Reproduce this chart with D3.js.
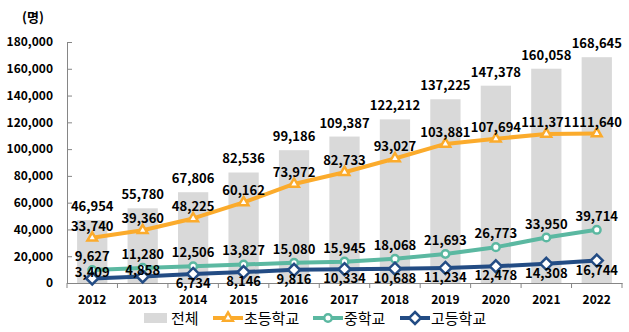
<!DOCTYPE html>
<html>
<head>
<meta charset="utf-8">
<script src="https://cdn.jsdelivr.net/npm/d3@7"></script>
<style>
  body { margin: 0; background: #fff; }
  svg text { font-family: "Noto Sans CJK KR", "Noto Sans", sans-serif; fill: #000; }
</style>
</head>
<body>
<div id="chart"></div>
<script>
const years = ["2012", "2013", "2014", "2015", "2016", "2017", "2018", "2019", "2020", "2021", "2022"];
const total = [46954, 55780, 67806, 82536, 99186, 109387, 122212, 137225, 147378, 160058, 168645];
const elementary = [33740, 39360, 48225, 60162, 73972, 82733, 93027, 103881, 107694, 111371, 111640];
const middle = [9627, 11280, 12506, 13827, 15080, 15945, 18068, 21693, 26773, 33950, 39714];
const high = [3409, 4858, 6734, 8146, 9816, 10334, 10688, 11234, 12478, 14308, 16744];
const yTicks = [0, 20000, 40000, 60000, 80000, 100000, 120000, 140000, 160000, 180000];

const W = 629, H = 332;
const margin = { top: 42, right: 7, bottom: 49, left: 67 };
const width = W - margin.left - margin.right;
const height = H - margin.top - margin.bottom;
const fmt = d3.format(",");

const svg = d3.select("#chart")
  .append("svg")
  .attr("width", W)
  .attr("height", H);

const g = svg.append("g")
  .attr("transform", `translate(${margin.left},${margin.top})`);

const x = d3.scaleBand().domain(years).range([0, width]);
const bw = x.bandwidth() * 0.6;
const y = d3.scaleLinear().domain([0, 180000]).range([height, 0]);

const gray = "#d9d9d9", orange = "#fbab2c", teal = "#5bb8a1", navy = "#234c84";

// bars
g.selectAll(".bar")
  .data(total)
  .enter()
  .append("rect")
  .attr("class", "bar")
  .attr("x", (d, i) => x(years[i]) + (x.bandwidth() - bw) / 2)
  .attr("y", d => y(d))
  .attr("width", bw)
  .attr("height", d => height - y(d))
  .attr("fill", gray);

// axes
const yAxis = d3.axisLeft(y).tickValues(yTicks).tickFormat(fmt).tickSize(-5).tickPadding(14);
g.append("g").call(yAxis)
  .call(s => s.select(".domain").attr("stroke", "#868686"))
  .call(s => s.selectAll(".tick line").attr("stroke", "#868686"))
  .call(s => s.selectAll(".tick text").style("font-size", "12px").style("font-weight", "bold")
    .style("font-family", "'Noto Sans CJK KR', sans-serif").attr("fill", "#000"));

const xAxis = d3.axisBottom(x).tickSize(0).tickPadding(12);
const xg = g.append("g").attr("transform", `translate(0,${height})`).call(xAxis);
xg.select(".domain").attr("stroke", "#868686");
xg.selectAll(".tick text").style("font-size", "12px").style("font-weight", "bold")
  .style("font-family", "'Noto Sans CJK KR', sans-serif").attr("fill", "#000");
xg.selectAll(".sep")
  .data(d3.range(years.length + 1))
  .enter()
  .append("line")
  .attr("x1", i => i * x.step()).attr("x2", i => i * x.step())
  .attr("y1", 0).attr("y2", 5)
  .attr("stroke", "#868686");

// bar labels
g.selectAll(".blab")
  .data(total)
  .enter()
  .append("text")
  .attr("x", (d, i) => x(years[i]) + x.bandwidth() / 2)
  .attr("y", d => y(d) - 9)
  .attr("text-anchor", "middle")
  .style("font-size", "13px").style("font-weight", "bold")
  .text(fmt);

const line = d3.line()
  .x((d, i) => x(years[i]) + x.bandwidth() / 2)
  .y(d => y(d));

function series(data, color, marker, labelDy) {
  g.append("path")
    .datum(data)
    .attr("d", line)
    .attr("fill", "none")
    .attr("stroke", color)
    .attr("stroke-width", 4)
    .attr("stroke-linejoin", "round");
  g.selectAll(null)
    .data(data)
    .enter()
    .append("path")
    .attr("transform", (d, i) => `translate(${x(years[i]) + x.bandwidth() / 2},${y(d)})`)
    .attr("d", marker)
    .attr("fill", "#fff")
    .attr("stroke", color)
    .attr("stroke-width", 2.5);
  g.selectAll(null)
    .data(data)
    .enter()
    .append("text")
    .attr("x", (d, i) => x(years[i]) + x.bandwidth() / 2)
    .attr("y", (d, i) => y(d) + labelDy(i))
    .attr("text-anchor", "middle")
    .style("font-size", "13px").style("font-weight", "bold")
    .text(fmt);
}

const tri = d3.symbol(d3.symbolTriangle, 40)();
const circ = d3.symbol(d3.symbolCircle, 45)();
const diam = "M0,-6L6,0L0,6L-6,0Z";

series(elementary, orange, tri, () => -7);
series(middle, teal, circ, () => -9);
series(high, navy, diam, i => i < 2 ? -1 : 14);

// unit
svg.append("text")
  .attr("x", 33).attr("y", 22)
  .attr("text-anchor", "middle")
  .style("font-size", "13px").style("font-weight", "bold")
  .text("(명)");

// legend
const legendItems = [
  { name: "전체", type: "bar", color: gray, x: 144 },
  { name: "초등학교", type: "line", color: orange, marker: tri, x: 213 },
  { name: "중학교", type: "line", color: teal, marker: circ, x: 313 },
  { name: "고등학교", type: "line", color: navy, marker: diam, x: 400 }
];
const ly = 318;
const lg = svg.append("g");
legendItems.forEach(it => {
  if (it.type === "bar") {
    lg.append("rect").attr("x", it.x).attr("y", ly - 5).attr("width", 23).attr("height", 10).attr("fill", it.color);
    lg.append("text").attr("x", it.x + 27).attr("y", ly + 6).style("font-size", "15px").text(it.name);
  } else {
    lg.append("line").attr("x1", it.x).attr("x2", it.x + 30).attr("y1", ly).attr("y2", ly)
      .attr("stroke", it.color).attr("stroke-width", 4);
    lg.append("path").attr("transform", `translate(${it.x + 15},${ly})`).attr("d", it.marker)
      .attr("fill", "#fff").attr("stroke", it.color).attr("stroke-width", 2.5);
    lg.append("text").attr("x", it.x + 31).attr("y", ly + 6).style("font-size", "15px").text(it.name);
  }
});
</script>
</body>
</html>
